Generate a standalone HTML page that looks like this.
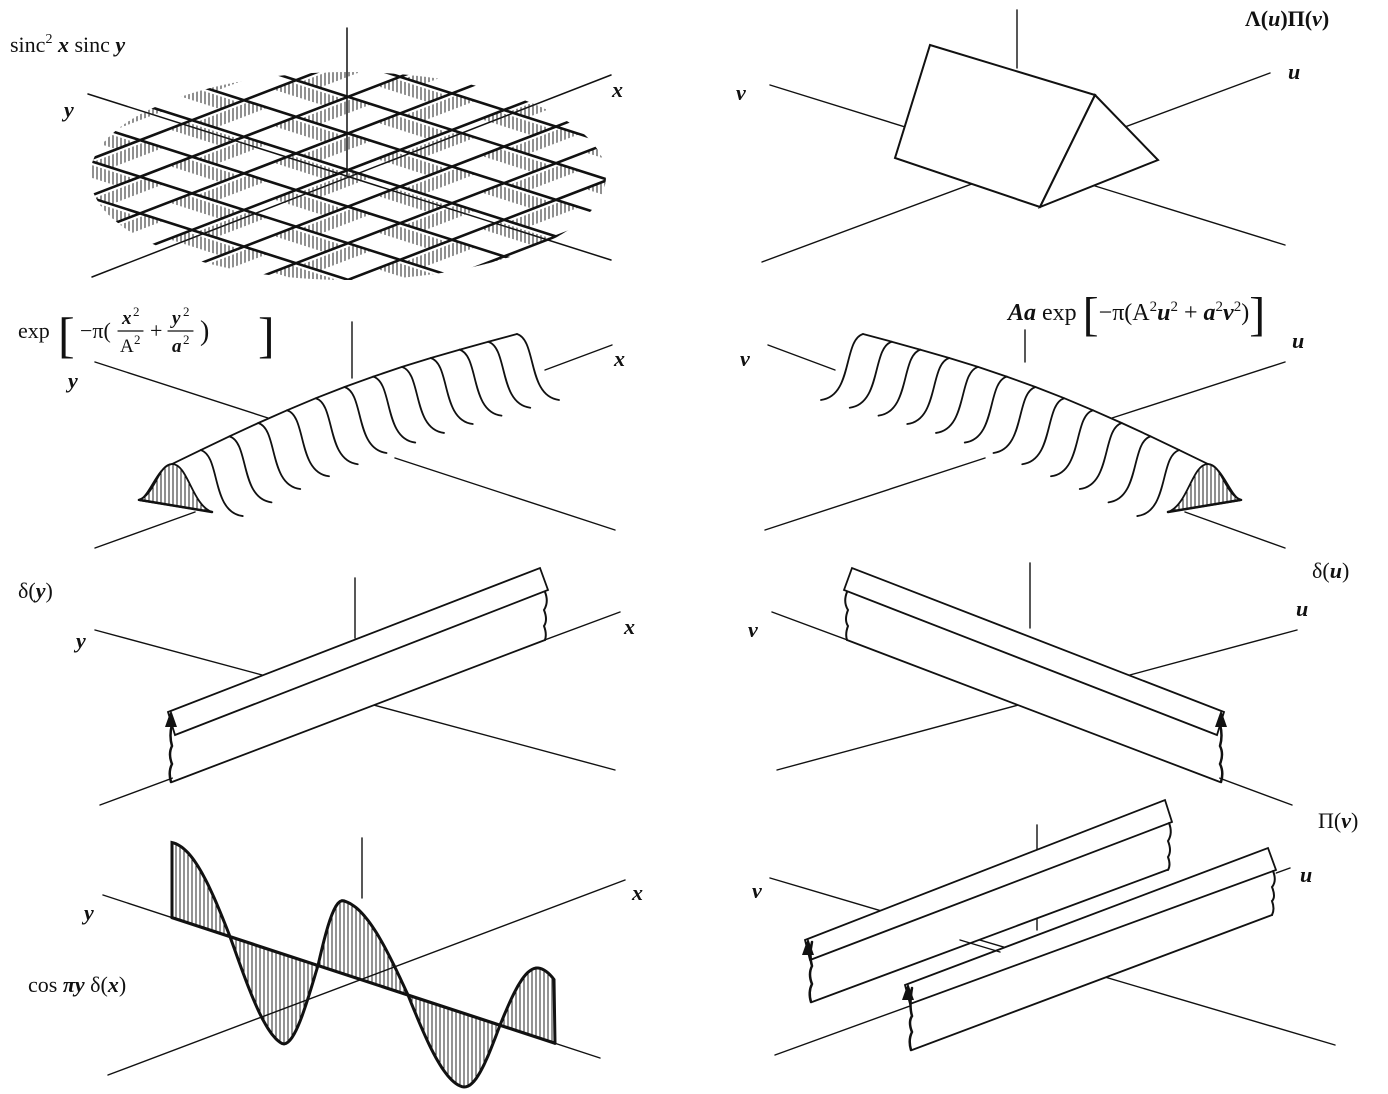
<!DOCTYPE html>
<html><head><meta charset="utf-8"><style>
html,body{margin:0;padding:0;background:#fff}
svg{display:block;font-family:"Liberation Serif",serif;font-size:22px}
text{fill:#111}
.i{font-style:italic;font-weight:bold}
</style></head><body>
<svg id="s" width="1388" height="1094" viewBox="0 0 1388 1094" xmlns="http://www.w3.org/2000/svg" stroke="#111" fill="none" stroke-linecap="round">
<defs>
<clipPath id="ell"><ellipse cx="348" cy="176" rx="258" ry="104"/></clipPath>
<pattern id="hv" width="4" height="4" patternUnits="userSpaceOnUse"><line x1="1" y1="0" x2="1" y2="4" stroke="#222" stroke-width="1"/></pattern>
</defs>

<!-- Panel 1 -->
<text x="10" y="52" stroke="none">sinc<tspan font-size="14" dy="-9">2</tspan><tspan dy="9" class="i"> x</tspan>  sinc <tspan class="i">y</tspan></text>
<text x="64" y="117" stroke="none" class="i">y</text>
<text x="612" y="97" stroke="none" class="i">x</text>
<line x1="88" y1="94" x2="611" y2="260" stroke-width="1.5"/>
<line x1="611" y1="75" x2="92" y2="277" stroke-width="1.5"/>
<g id="grid" clip-path="url(#ell)"></g>
<line x1="347" y1="28" x2="347" y2="175" stroke-width="1.5"/>

<!-- Panel 2 -->
<text x="1245" y="26" stroke="none" font-weight="bold">Λ(<tspan class="i">u</tspan>)Π(<tspan class="i">v</tspan>)</text>
<text x="736" y="100" stroke="none" class="i">v</text>
<text x="1288" y="79" stroke="none" class="i">u</text>
<line x1="770" y1="85" x2="1285" y2="245" stroke-width="1.4"/>
<line x1="1270" y1="73" x2="762" y2="262" stroke-width="1.4"/>
<line x1="1017" y1="10" x2="1017" y2="68" stroke-width="1.4"/>
<polygon points="930,45 1095,95 1040,207 895,158" fill="#fff" stroke-width="2"/>
<polygon points="1095,95 1158,160 1040,207" fill="#fff" stroke-width="2"/>

<!-- Panel 3 label -->
<g stroke="none">
<text x="18" y="338">exp</text>
<text x="58" y="352" font-size="50">[</text>
<text x="80" y="338">−π(</text>
<text x="122" y="324" font-size="19" class="i">x</text><text x="133" y="316" font-size="13">2</text>
<text x="120" y="352" font-size="19">A</text><text x="134" y="344" font-size="13">2</text>
<text x="150" y="338">+</text>
<text x="172" y="324" font-size="19" class="i">y</text><text x="183" y="316" font-size="13">2</text>
<text x="172" y="352" font-size="19" class="i">a</text><text x="183" y="344" font-size="13">2</text>
<text x="200" y="340" font-size="28">)</text>
<text x="258" y="352" font-size="50">]</text>
</g>
<line x1="118" y1="331" x2="143" y2="331" stroke-width="1.2"/>
<line x1="168" y1="331" x2="193" y2="331" stroke-width="1.2"/>
<text x="68" y="388" stroke="none" class="i">y</text>
<text x="614" y="366" stroke="none" class="i">x</text>
<line x1="95" y1="362" x2="268" y2="418" stroke-width="1.4"/>
<line x1="395" y1="458" x2="615" y2="530" stroke-width="1.4"/>
<line x1="612" y1="345" x2="545" y2="370" stroke-width="1.4"/>
<line x1="195" y1="512" x2="95" y2="548" stroke-width="1.4"/>
<line x1="352" y1="322" x2="352" y2="378" stroke-width="1.4"/>
<g id="g3"></g>

<!-- Panel 4 -->
<text x="1008" y="320" stroke="none" font-size="24"><tspan class="i">Aa</tspan>  exp <tspan font-size="48" dy="10">[</tspan><tspan dy="-10">−π(A</tspan><tspan font-size="15" dy="-9">2</tspan><tspan dy="9" class="i">u</tspan><tspan font-size="15" dy="-9">2</tspan><tspan dy="9"> + </tspan><tspan class="i">a</tspan><tspan font-size="15" dy="-9">2</tspan><tspan dy="9" class="i">v</tspan><tspan font-size="15" dy="-9">2</tspan><tspan dy="9">)</tspan><tspan font-size="48" dy="10">]</tspan></text>
<text x="740" y="366" stroke="none" class="i">v</text>
<text x="1292" y="348" stroke="none" class="i">u</text>
<g transform="translate(1380,0) scale(-1,1)">
<line x1="95" y1="362" x2="268" y2="418" stroke-width="1.4"/>
<line x1="395" y1="458" x2="615" y2="530" stroke-width="1.4"/>
<line x1="612" y1="345" x2="545" y2="370" stroke-width="1.4"/>
<line x1="195" y1="512" x2="95" y2="548" stroke-width="1.4"/>
<line x1="355" y1="330" x2="355" y2="362" stroke-width="1.4"/>
<g id="g4"></g>
</g>

<!-- Panel 5 -->
<text x="18" y="598" stroke="none">δ(<tspan class="i">y</tspan>)</text>
<text x="76" y="648" stroke="none" class="i">y</text>
<text x="624" y="634" stroke="none" class="i">x</text>
<g>
<line x1="95" y1="630" x2="615" y2="770" stroke-width="1.4"/>
<line x1="620" y1="612" x2="100" y2="805" stroke-width="1.4"/>
<line x1="355" y1="578" x2="355" y2="638" stroke-width="1.4"/>
<polygon points="168,712 540,568 548,590 545,640 173,782 170,735" fill="#fff" stroke="none"/>
<path d="M168,712 L540,568 L548,590 L175,735 Z" fill="#fff" stroke-width="1.8"/>
<path d="M172,782 L545,640" stroke-width="1.8"/>
<path d="M545,592 q4,10 -1,18 q4,10 0,16 q3,8 1,14" stroke-width="2"/>
<path d="M171,782 q-3,-10 1,-18 q-4,-10 0,-18 q-3,-10 0,-22" stroke-width="2.5"/>
<polygon points="171,710 165,727 177,727" fill="#111" stroke="none"/>
</g>

<!-- Panel 6 -->
<text x="1312" y="578" stroke="none">δ(<tspan class="i">u</tspan>)</text>
<text x="748" y="637" stroke="none" class="i">v</text>
<text x="1296" y="616" stroke="none" class="i">u</text>
<g transform="translate(1392,0) scale(-1,1)">
<line x1="95" y1="630" x2="615" y2="770" stroke-width="1.4"/>
<line x1="620" y1="612" x2="100" y2="805" stroke-width="1.4"/>
<line x1="362" y1="563" x2="362" y2="628" stroke-width="1.4"/>
<polygon points="168,712 540,568 548,590 545,640 173,782 170,735" fill="#fff" stroke="none"/>
<path d="M168,712 L540,568 L548,590 L175,735 Z" fill="#fff" stroke-width="1.8"/>
<path d="M172,782 L545,640" stroke-width="1.8"/>
<path d="M545,592 q4,10 -1,18 q4,10 0,16 q3,8 1,14" stroke-width="2"/>
<path d="M171,782 q-3,-10 1,-18 q-4,-10 0,-18 q-3,-10 0,-22" stroke-width="2.5"/>
<polygon points="171,710 165,727 177,727" fill="#111" stroke="none"/>
</g>

<!-- Panel 7 -->
<text x="84" y="920" stroke="none" class="i">y</text>
<text x="632" y="900" stroke="none" class="i">x</text>
<text x="28" y="992" stroke="none">cos <tspan class="i">πy</tspan> δ(<tspan class="i">x</tspan>)</text>
<line x1="103" y1="895" x2="600" y2="1058" stroke-width="1.4"/>
<line x1="625" y1="880" x2="108" y2="1075" stroke-width="1.4"/>
<line x1="362" y1="838" x2="362" y2="898" stroke-width="1.4"/>
<g id="g7"></g>

<!-- Panel 8 -->
<text x="1318" y="828" stroke="none">Π(<tspan class="i">v</tspan>)</text>
<text x="752" y="898" stroke="none" class="i">v</text>
<text x="1300" y="882" stroke="none" class="i">u</text>
<line x1="770" y1="878" x2="1335" y2="1045" stroke-width="1.4"/>
<line x1="1290" y1="868" x2="775" y2="1055" stroke-width="1.4"/>
<line x1="1037" y1="825" x2="1037" y2="930" stroke-width="1.4"/>
<g>
<polygon points="805,940 1165,800 1172,822 1168,870 812,1002 808,960" fill="#fff" stroke="none"/>
<path d="M805,940 L1165,800 L1172,822 L810,960 Z" fill="#fff" stroke-width="1.8"/>
<path d="M812,1002 L1167,870" stroke-width="1.8"/>
<path d="M1169,823 q4,10 -1,18 q4,10 0,16 q3,8 0,13" stroke-width="2"/>
<path d="M811,1002 q-3,-10 1,-18 q-4,-10 0,-18 q-3,-10 0,-24" stroke-width="2.5"/>
<polygon points="808,938 802,955 814,955" fill="#111" stroke="none"/>
</g>
<g>
<polygon points="905,985 1268,848 1276,870 1272,915 912,1050 910,1004" fill="#fff" stroke="none"/>
<path d="M905,985 L1268,848 L1276,870 L910,1004 Z" fill="#fff" stroke-width="1.8"/>
<path d="M912,1050 L1272,915" stroke-width="1.8"/>
<path d="M1273,871 q4,10 -1,16 q4,10 0,14 q3,8 0,14" stroke-width="2"/>
<path d="M911,1050 q-3,-10 1,-18 q-4,-10 0,-16 q-3,-10 0,-28" stroke-width="2.5"/>
<polygon points="908,983 902,1000 914,1000" fill="#111" stroke="none"/>
</g>
<line x1="960" y1="940" x2="1000" y2="952" stroke-width="1.4"/>
</svg>
<script>
var NS="http://www.w3.org/2000/svg";
function el(p,t,a){var e=document.createElementNS(NS,t);for(var k in a)e.setAttribute(k,a[k]);p.appendChild(e);return e;}
(function(){
var g=document.getElementById('grid');var C=[348,170];
var e1=[26,8.3],e2=[-26,10];
function P(a,b){return [C[0]+a*e1[0]+b*e2[0],C[1]+a*e1[1]+b*e2[1]];}
function pl(a,b,c,d){return [a,b,c,d].map(function(p){return p[0].toFixed(1)+','+p[1].toFixed(1)}).join(' ');}
for(var i=-12;i<12;i++)for(var j=-12;j<12;j++){
 var a=i*2,b=j*2;
 if(((i+j)%2+2)%2==1){
  el(g,'polygon',{points:pl(P(a,b+0.2),P(a+2,b+0.2),P(a+2,b+0.9),P(a,b+0.9)),fill:'url(#hv)',stroke:'none'});
 } else {
  el(g,'polygon',{points:pl(P(a+0.2,b),P(a+0.9,b),P(a+0.9,b+2),P(a+0.2,b+2)),fill:'url(#hv)',stroke:'none'});
 }}
for(var k=-12;k<=12;k++){
 var a=P(k*2,-30),b=P(k*2,30);el(g,'line',{x1:a[0],y1:a[1],x2:b[0],y2:b[1],'stroke-width':2.6});
 a=P(-30,k*2);b=P(30,k*2);el(g,'line',{x1:a[0],y1:a[1],x2:b[0],y2:b[1],'stroke-width':2.6});
}
})();
function ridge(g){
 var n=13,tops=[];
 for(var i=0;i<n;i++){var t=i/(n-1);var x=172+t*345;var y=464-t*130-Math.sin(t*Math.PI)*12;tops.push([x,y]);}
 var rl="M140,500 C150,495 158,466 172,464";
 for(var i=1;i<n;i++)rl+=" L"+tops[i][0].toFixed(1)+","+tops[i][1].toFixed(1);
 el(g,'path',{d:rl,'stroke-width':1.8});
 for(var i=1;i<n;i++){var p=tops[i];
  el(g,'path',{d:"M"+p[0]+","+p[1]+" C"+(p[0]+20)+","+(p[1]+6)+" "+(p[0]+10)+","+(p[1]+62)+" "+(p[0]+42)+","+(p[1]+66),'stroke-width':1.8});}
 el(g,'path',{d:"M138,500 C155,496 158,464 172,464 C188,464 192,505 212,512 Z",fill:'url(#hv)','stroke-width':1.8});
 el(g,'line',{x1:140,y1:500,x2:212,y2:512,'stroke-width':2.5});
}
ridge(document.getElementById('g3'));ridge(document.getElementById('g4'));
(function(){
var g=document.getElementById('g7');
function ax(x){return 895+(x-103)*(163/497);}
var kx=[172,230,283,318,345,408,462,500,541,555],kp=[0,.5,1,1.5,2,2.5,3,3.5,4,4.15];
var amp=[[172,75],[283,90],[345,73],[462,74],[541,70],[555,70]];
function interp(x,xs,ys){for(var i=0;i<xs.length-1;i++){if(x<=xs[i+1]){var t=(x-xs[i])/(xs[i+1]-xs[i]);return ys[i]+t*(ys[i+1]-ys[i]);}}return ys[ys.length-1];}
var ax2=amp.map(function(a){return a[0]}),ay2=amp.map(function(a){return a[1]});
var pts=[];
for(var x=172;x<=555;x+=2){var ph=interp(x,kx,kp)*Math.PI;var A=interp(x,ax2,ay2);pts.push([x,ax(x)-A*Math.cos(ph)]);}
var d="M172,"+ax(172).toFixed(1);pts.forEach(function(p){d+=" L"+p[0]+","+p[1].toFixed(1);});d+=" L555,"+ax(555).toFixed(1);
var hatch="";pts.forEach(function(p,i){if(i%2==0)hatch+="M"+p[0]+","+ax(p[0]).toFixed(1)+" L"+p[0]+","+p[1].toFixed(1)+" ";});
el(g,'path',{d:hatch,'stroke-width':0.9});
el(g,'path',{d:d,'stroke-width':3});
el(g,'line',{x1:172,y1:ax(172),x2:555,y2:ax(555),'stroke-width':3.2});
})();
</script>
</body></html>
